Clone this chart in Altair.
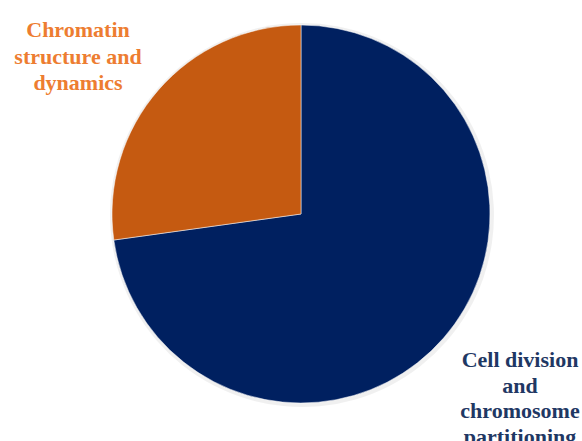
import altair as alt
import pandas as pd

# Share of proteins per functional category
categories = ["Cell division and chromosome partitioning", "Chromatin structure and dynamics"]
shares = [72.8, 27.2]
slice_colors = ["#002060", "#C55A11"]

label_lines_a = ["Cell division", "and", "chromosome", "partitioning"]
label_lines_b = ["Chromatin", "structure and", "dynamics"]
label_colors = ["#1F3864", "#ED7D31"]

df = pd.DataFrame({"category": categories, "share": shares, "rank": [0, 1]})

cx, cy, r = 301, 214, 189
font = "Liberation Serif"

# Labels sit clear of the pie, so they can be drawn first
label_a = alt.Chart(pd.DataFrame({"t": ["\n".join(label_lines_a)]})).mark_text(
    font=font, fontSize=22, fontWeight="bold", color=label_colors[0],
    align="center", lineBreak="\n", lineHeight=25.5, dy=8,
).encode(text="t:N", x=alt.value(520), y=alt.value(352))

label_b = alt.Chart(pd.DataFrame({"t": ["\n".join(label_lines_b)]})).mark_text(
    font=font, fontSize=22, fontWeight="bold", color=label_colors[1],
    align="center", lineBreak="\n", lineHeight=26.5, dy=8,
).encode(text="t:N", x=alt.value(78), y=alt.value(22))

shadow = alt.Chart(df).mark_arc(radius=r + 3, color="#000000", opacity=0.06).encode(
    theta=alt.Theta("share:Q", stack=True),
    order=alt.Order("rank:O"),
    x=alt.value(cx + 1),
    y=alt.value(cy + 1),
)

pie = alt.Chart(df).mark_arc(radius=r, stroke="#ffffff", strokeWidth=0.5).encode(
    theta=alt.Theta("share:Q", stack=True),
    order=alt.Order("rank:O"),
    color=alt.Color("category:N", scale=alt.Scale(domain=categories, range=slice_colors), legend=None),
    x=alt.value(cx),
    y=alt.value(cy),
)

chart = alt.layer(label_a, label_b, shadow, pie).properties(
    width=582, height=441, autosize=alt.AutoSizeParams(type="none"), padding=0,
    view=alt.ViewBackground(stroke="transparent"),
)

chart.save("out.html", embed_options={"renderer": "svg", "actions": False})
